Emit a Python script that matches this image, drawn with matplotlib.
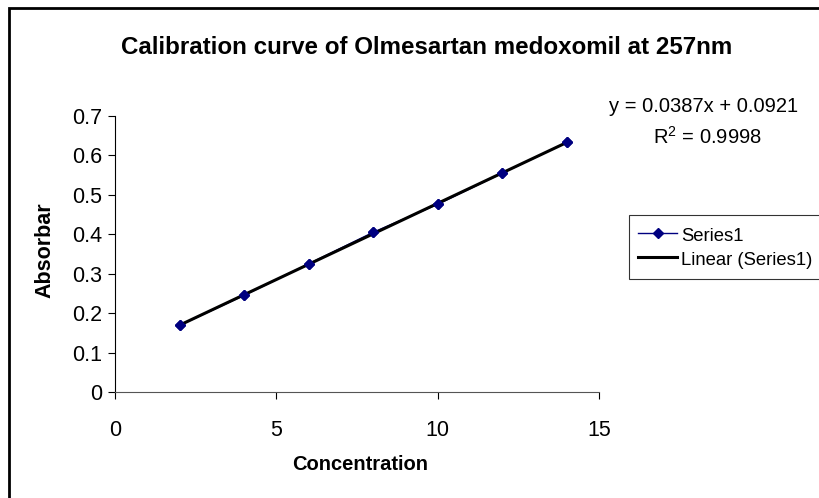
import numpy as np
import matplotlib.pyplot as plt
from matplotlib.patches import Rectangle
import matplotlib.font_manager as fm

# data
concentration = [2, 4, 6, 8, 10, 12, 14]
absorbance = [0.169, 0.245, 0.325, 0.405, 0.476, 0.555, 0.633]
eq_text = "y = 0.0387x + 0.0921"
r2_text = "R$^2$ = 0.9998"

names = {f.name for f in fm.fontManager.ttflist}
narrow = "Liberation Sans Narrow" if "Liberation Sans Narrow" in names else "Liberation Sans"
plt.rcParams['font.family'] = ['Liberation Sans', 'DejaVu Sans']
plt.rcParams['mathtext.fontset'] = 'custom'
plt.rcParams['mathtext.rm'] = 'Liberation Sans'

W, H = 819, 498
fig = plt.figure(figsize=(W / 100, H / 100), dpi=100)

def fx(px):
    return px / W

def fy(py):
    return 1 - py / H

# plot area: x 115..599, y 116..392 px
ax = fig.add_axes([fx(115), fy(392), fx(599) - fx(115), (392 - 116) / H])

coef = np.polyfit(concentration, absorbance, 1)
xfit = np.array([min(concentration), max(concentration)])

ax.plot(concentration, absorbance, '-', color='#000080', lw=1, marker='D',
        markersize=5.5, markerfacecolor='#000080', markeredgecolor='#000080',
        label='Series1', zorder=3)
ax.plot(xfit, np.polyval(coef, xfit), '-', color='black', lw=2.2,
        label='Linear (Series1)', zorder=4)
# markers back on top of the trendline
ax.plot(concentration, absorbance, 'D', color='#000080', markersize=5.5, zorder=5)

ax.set_xlim(0, 15)
ax.set_ylim(0, 0.7)
ax.set_xticks([0, 5, 10, 15])
ax.set_yticks(np.arange(0, 0.71, 0.1))
ax.set_yticklabels(['0', '0.1', '0.2', '0.3', '0.4', '0.5', '0.6', '0.7'])
ax.tick_params(labelsize=15.5, length=5, width=0.8, direction='out', pad=4)
ax.tick_params(axis='x', pad=15)
for s in ['top', 'right']:
    ax.spines[s].set_visible(False)
ax.spines['left'].set_color('black')
ax.spines['bottom'].set_color('#555555')

fig.text(fx(427), fy(48), "Calibration curve of Olmesartan medoxomil at 257nm",
         ha='center', va='center', fontsize=17.4, fontweight='bold', family=narrow)
fig.text(fx(360), fy(465), "Concentration", ha='center', va='center',
         fontsize=14.5, fontweight='bold', family=narrow)
fig.text(fx(45), fy(250), "Absorbar", ha='center', va='center', rotation=90,
         fontsize=15.5, fontweight='bold', family=narrow)
fig.text(fx(798), fy(107), eq_text, ha='right', va='center', fontsize=14.5, family=narrow)
fig.text(fx(707), fy(137), r2_text, ha='center', va='center', fontsize=14.5, family=narrow)

leg = fig.legend(loc='upper left', bbox_to_anchor=(fx(629), fy(215)),
                 fontsize=13.3, frameon=True, fancybox=False, handlelength=2.1,
                 handleheight=1.4, handletextpad=0.2, borderpad=0.5,
                 labelspacing=0.15, borderaxespad=0)
leg.get_frame().set_edgecolor('black')
leg.get_frame().set_linewidth(0.8)
for t in leg.get_texts():
    t.set_family(narrow)

# chart border (runs off the right and bottom edges)
fig.patches.append(Rectangle((fx(9), -0.1), 1.2, fy(8) + 0.1, transform=fig.transFigure,
                             fill=False, edgecolor='black', lw=2, clip_on=False))

fig.savefig("out.png", dpi=100)
